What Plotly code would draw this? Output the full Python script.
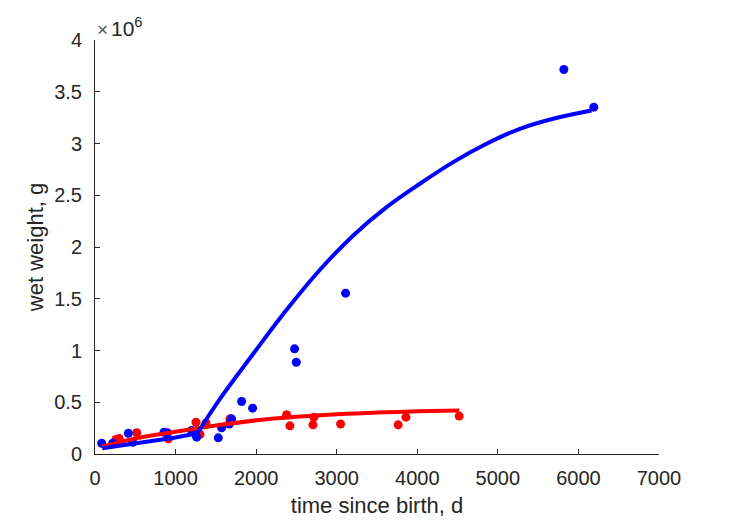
import plotly.graph_objects as go

# Observed data (time since birth, d ; wet weight, g)
blue_t = [83, 220, 414, 467, 856, 897, 1200, 1241, 1262, 1530, 1572, 1667, 1696, 1820, 1956, 2477, 2498, 3110, 5819, 6191]
blue_w = [0.104e6, 0.104e6, 0.20e6, 0.114e6, 0.21e6, 0.205e6, 0.227e6, 0.20e6, 0.163e6, 0.156e6, 0.253e6, 0.29e6,
          0.34e6, 0.507e6, 0.443e6, 1.016e6, 0.887e6, 1.554e6, 3.715e6, 3.351e6]

red_t = [230, 260, 300, 517, 910, 1253, 1303, 1377, 1675, 2378, 2419, 2705, 2717, 3048, 3763, 3859, 4520]
red_w = [0.10e6, 0.14e6, 0.15e6, 0.205e6, 0.147e6, 0.307e6, 0.19e6, 0.30e6, 0.34e6, 0.379e6, 0.272e6, 0.282e6,
         0.356e6, 0.29e6, 0.282e6, 0.356e6, 0.366e6]

# Model curves; blue has a sharp bend at ~1270 d
blue_curve_t = [90, 500, 1000, 1270, 1551, 1964, 2378, 2792, 3205, 3619, 4032, 4446, 4859, 5273, 5686, 6162]
blue_curve_w = [0.055e6, 0.10e6, 0.16e6, 0.20e6, 0.533e6, 0.968e6, 1.393e6, 1.78e6, 2.111e6, 2.385e6, 2.611e6,
                2.82e6, 2.997e6, 3.142e6, 3.239e6, 3.319e6]
blue_bend = 3  # index of the bend point

red_curve_t = [90, 500, 1000, 1500, 2000, 2500, 3000, 3500, 4000, 4520]
red_curve_w = [0.07e6, 0.15e6, 0.215e6, 0.275e6, 0.325e6, 0.36e6, 0.385e6, 0.40e6, 0.412e6, 0.42e6]

x_ticks = [0, 1000, 2000, 3000, 4000, 5000, 6000, 7000]
y_ticks = [0, 0.5e6, 1e6, 1.5e6, 2e6, 2.5e6, 3e6, 3.5e6, 4e6]
y_tick_labels = ["0", "0.5", "1", "1.5", "2", "2.5", "3", "3.5", "4"]

RED = "#ff0000"
BLUE = "#0000ff"
AX = "#262626"

fig = go.Figure()
fig.add_trace(go.Scatter(x=red_t, y=red_w, mode="markers",
                         marker=dict(color=RED, size=9, line=dict(width=0)), showlegend=False))
fig.add_trace(go.Scatter(x=blue_t, y=blue_w, mode="markers",
                         marker=dict(color=BLUE, size=9, line=dict(width=0)), showlegend=False))
fig.add_trace(go.Scatter(x=red_curve_t, y=red_curve_w, mode="lines",
                         line=dict(color=RED, width=4, shape="spline", smoothing=0.8), showlegend=False))
fig.add_trace(go.Scatter(x=blue_curve_t[:blue_bend + 1], y=blue_curve_w[:blue_bend + 1], mode="lines",
                         line=dict(color=BLUE, width=4), showlegend=False))
fig.add_trace(go.Scatter(x=blue_curve_t[blue_bend:], y=blue_curve_w[blue_bend:], mode="lines",
                         line=dict(color=BLUE, width=4, shape="spline", smoothing=1.0), showlegend=False))

font = "Liberation Sans, Arial, Helvetica, sans-serif"
fig.update_layout(
    width=729, height=521,
    margin=dict(l=87, r=78, t=32, b=75),
    paper_bgcolor="white", plot_bgcolor="white",
    font=dict(family=font, size=20, color=AX),
    xaxis=dict(range=[0, 7000], tickvals=x_ticks, ticks="inside", ticklen=5, tickcolor=AX,
               showline=True, linecolor=AX, linewidth=1, showgrid=False, zeroline=False,
               tickfont=dict(size=20, color=AX), ticklabelstandoff=6,
               title=dict(text="time since birth, d", font=dict(size=22, color=AX), standoff=9)),
    yaxis=dict(range=[0, 4e6], tickvals=y_ticks, ticktext=y_tick_labels, ticks="inside", ticklen=5, tickcolor=AX,
               showline=True, linecolor=AX, linewidth=1, showgrid=False, zeroline=False,
               tickfont=dict(size=20, color=AX), ticklabelstandoff=8,
               title=dict(text="wet weight, g", font=dict(size=22, color=AX), standoff=4)),
    annotations=[
        dict(text="×", xref="paper", yref="paper", x=0.0, y=1.0, xanchor="left", yanchor="bottom",
             showarrow=False, font=dict(size=19, color="#555555"), xshift=0, yshift=-2),
        dict(text="10<sup>6</sup>", xref="paper", yref="paper", x=0.0, y=1.0, xanchor="left", yanchor="bottom",
             showarrow=False, font=dict(size=21, color=AX), xshift=14, yshift=-2),
    ],
)

fig.write_html("out.html")
